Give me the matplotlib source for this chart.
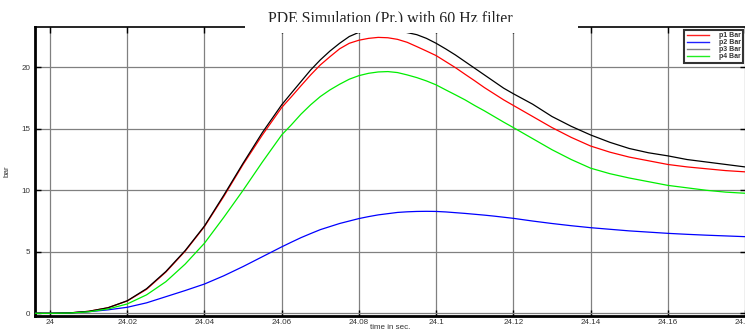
import matplotlib
matplotlib.use("Agg")
import matplotlib.pyplot as plt
from matplotlib.lines import Line2D
from matplotlib.patches import Rectangle
from matplotlib.transforms import Bbox, TransformedBbox

# ---- data ----
t = [23.996, 24.000, 24.005, 24.010, 24.015, 24.020, 24.025, 24.030, 24.035,
     24.040, 24.045, 24.050, 24.055, 24.060,
     24.0625, 24.065, 24.0675, 24.070, 24.0725, 24.075, 24.0775, 24.080,
     24.0825, 24.085, 24.0875, 24.090, 24.0925, 24.095, 24.0975, 24.100,
     24.1025, 24.105, 24.1075, 24.110, 24.1125, 24.115, 24.1175, 24.120,
     24.125, 24.130, 24.135, 24.140, 24.145, 24.150, 24.155, 24.160, 24.165,
     24.170, 24.175, 24.180]
p1 = [0.0, 0.0, 0.03, 0.16, 0.45, 1.0, 1.95, 3.35, 5.05,
      7.05, 9.5, 12.1, 14.5, 16.73,
      17.6, 18.5, 19.38, 20.19, 20.86, 21.5, 21.95, 22.2,
      22.35, 22.43, 22.4, 22.27, 22.03, 21.68, 21.32, 20.95,
      20.46, 19.97, 19.43, 18.9, 18.35, 17.85, 17.35, 16.9,
      16.0, 15.1, 14.3, 13.6, 13.1, 12.7, 12.4, 12.1, 11.9,
      11.75, 11.6, 11.5]
p2 = [0.0, 0.0, 0.03, 0.13, 0.28, 0.49, 0.85, 1.35, 1.85,
      2.38, 3.05, 3.8, 4.6, 5.4,
      5.78, 6.15, 6.48, 6.8, 7.05, 7.3, 7.5, 7.7,
      7.86, 8.0, 8.1, 8.2, 8.25, 8.28, 8.29, 8.28,
      8.24, 8.18, 8.12, 8.05, 7.98, 7.9, 7.81, 7.72,
      7.5, 7.3, 7.12, 6.96, 6.83, 6.7, 6.6, 6.5, 6.42,
      6.35, 6.29, 6.23]
p3 = [0.0, 0.0, 0.03, 0.16, 0.45, 1.02, 2.0, 3.4, 5.1,
      7.1, 9.6, 12.2, 14.7, 16.95,
      17.9, 18.84, 19.78, 20.6, 21.32, 21.95, 22.5, 22.84,
      23.02, 23.1, 23.08, 22.98, 22.82, 22.65, 22.35, 21.95,
      21.49, 21.0, 20.46, 19.92, 19.38, 18.84, 18.3, 17.85,
      17.0, 16.0, 15.2, 14.5, 13.9, 13.4, 13.05, 12.8, 12.5,
      12.3, 12.1, 11.9]
p4 = [0.0, 0.0, 0.02, 0.12, 0.35, 0.76, 1.5, 2.57, 4.0,
      5.7, 7.8, 10.0, 12.3, 14.5,
      15.32, 16.19, 16.95, 17.62, 18.16, 18.62, 19.03, 19.32,
      19.51, 19.62, 19.65, 19.57, 19.38, 19.16, 18.89, 18.57,
      18.16, 17.76, 17.35, 16.89, 16.46, 16.0, 15.54, 15.1,
      14.2, 13.3, 12.5, 11.8, 11.35, 11.0, 10.7, 10.4, 10.2,
      10.0, 9.85, 9.76]

labels = ["p1 Bar", "p2 Bar", "p3 Bar", "p4 Bar"]
line_colors = ["#ff0000", "#0000ff", "#000000", "#00ee00"]
legend_colors = ["#ff2020", "#2020ff", "#808080", "#20ee20"]
xticks = [24, 24.02, 24.04, 24.06, 24.08, 24.1, 24.12, 24.14, 24.16, 24.18]
xticklabels = ["24", "24.02", "24.04", "24.06", "24.08", "24.1", "24.12",
               "24.14", "24.16", "24.18"]
yticks = [0, 5, 10, 15, 20]

W, H = 745, 331
fig = plt.figure(figsize=(W / 100, H / 100), dpi=100)
ax = fig.add_axes([35 / W, (H - 316) / H, (W - 35) / W + 0.001, (316 - 27.3) / H])

series = [p1, p2, p3, p4]
for s, c in zip(series, line_colors):
    ax.plot(t, s, color=c, lw=0.9, zorder=3)

ax.set_xlim(23.9961, 24.1802)
ax.set_ylim(-0.22, 23.25)
ax.set_xticks(xticks)
ax.set_xticklabels(xticklabels)
ax.set_yticks(yticks)
ax.grid(True, color="#808080", lw=0.9)
ax.set_axisbelow(True)

sans = "Liberation Sans"
ax.tick_params(axis="both", direction="in", length=4, width=1.0,
               labelsize=5.8, top=True, right=True, colors="#000000")
ax.tick_params(axis="x", pad=2.0)
ax.tick_params(axis="y", pad=3.5)
for lab in ax.get_xticklabels() + ax.get_yticklabels():
    lab.set_fontfamily(sans)
    lab.set_color("#333333")

for side in ["left", "bottom"]:
    ax.spines[side].set_linewidth(2.0)
ax.spines["top"].set_linewidth(1.2)
ax.spines["right"].set_visible(False)

ax.set_xlabel("time in sec.", fontsize=5.8, family=sans, labelpad=-1.0,
              color="#333333")
ax.set_ylabel("bar", fontsize=5.8, family=sans, labelpad=8, color="#333333")

handles = [Line2D([], [], color=c, lw=1.0) for c in legend_colors]
leg = ax.legend(handles, labels, loc="upper right",
                bbox_to_anchor=(743 / W, 1 - 30 / H),
                bbox_transform=fig.transFigure, borderaxespad=0,
                prop={"family": sans, "size": 5.0, "weight": "bold"},
                frameon=True, fancybox=False, handlelength=3.2,
                handletextpad=1.4, labelspacing=0.0, borderpad=0.35,
                handleheight=0.5)
leg.get_frame().set_edgecolor("black")
leg.get_frame().set_linewidth(1.5)
for txt in leg.get_texts():
    txt.set_color("#333333")

# white title box covering the top of the axes
fig.add_artist(Rectangle((245 / W, 1 - 33 / H), 333 / W, 33 / H,
                         transform=fig.transFigure, facecolor="white",
                         edgecolor="none", zorder=5))
title = fig.text(390 / W, 1 - 22.7 / H, "PDE Simulation (Pr.) with 60 Hz filter",
                 ha="center", va="baseline", fontsize=11.4,
                 family="Liberation Serif", color="#222222", zorder=6)
title.set_clip_box(TransformedBbox(Bbox([[0, 1 - 21.7 / H], [1, 1]]),
                                   fig.transFigure))
title.set_clip_on(True)

fig.savefig("out.png", dpi=100)
